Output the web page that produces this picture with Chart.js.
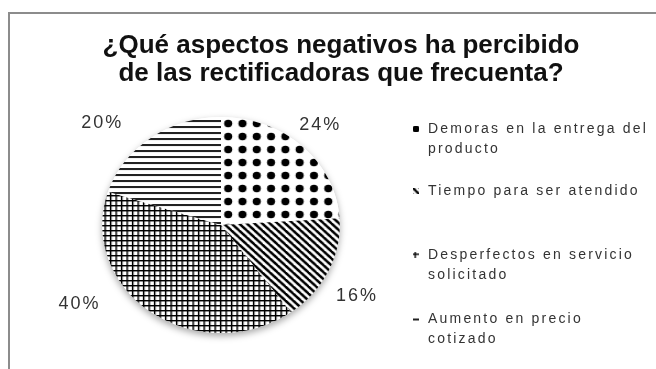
<!DOCTYPE html>
<html>
<head>
<meta charset="utf-8">
<script src="https://cdn.jsdelivr.net/npm/chart.js@4.4.0/dist/chart.umd.min.js"></script>
<style>
  html, body { margin: 0; padding: 0; background: #fff; }
  #wrap { width: 656px; height: 369px; }
</style>
</head>
<body>
<div id="wrap"><canvas id="pieChart" width="656" height="369"></canvas></div>
<script>
const titleLines = ["¿Qué aspectos negativos ha percibido", "de las rectificadoras que frecuenta?"];
const categories = [
  ["Demoras en la entrega del", "producto"],
  ["Tiempo para ser atendido"],
  ["Desperfectos en servicio", "solicitado"],
  ["Aumento en precio", "cotizado"],
];
const percentages = [24, 16, 40, 20];

// where each % label sits, in units of the pie radius from its centre
const labelSpots = [[0.92, -0.93], [1.26, 0.66], [-1.31, 0.73], [-1.10, -0.94]];
const legendRows = [129, 191, 255, 319];
const stretchX = 1.1;

function makePattern(w, h, draw) {
  const c = document.createElement("canvas");
  c.width = w;
  c.height = h;
  const g = c.getContext("2d");
  g.fillStyle = "#fff";
  g.fillRect(0, 0, w, h);
  g.fillStyle = "#000";
  g.strokeStyle = "#000";
  draw(g, w, h);
  return g.createPattern(c, "repeat");
}

const dots = makePattern(13, 13, (g) => {
  g.beginPath();
  g.arc(6.5, 6.5, 3.7, 0, Math.PI * 2);
  g.fill();
});
const diagonal = makePattern(7, 7, (g) => {
  g.lineWidth = 2.4;
  for (const o of [-7, 0, 7]) {
    g.beginPath();
    g.moveTo(o - 1, -1);
    g.lineTo(o + 8, 8);
    g.stroke();
  }
});
const grid = makePattern(5, 5, (g) => {
  g.fillRect(0, 0, 1.4, 5);
  g.fillRect(0, 0, 5, 1.4);
});
const horizontal = makePattern(6, 6, (g) => {
  g.fillStyle = "#222";
  g.fillRect(0, 0, 6, 2);
});
const fills = [dots, diagonal, grid, horizontal];

const frame = {
  id: "frame",
  beforeDraw(chart) {
    const ctx = chart.ctx;
    ctx.save();
    ctx.strokeStyle = "#8c8c8c";
    ctx.lineWidth = 2;
    ctx.strokeRect(9, 13, 700, 400);
    ctx.fillStyle = "#111";
    ctx.font = "bold 26px 'Liberation Sans', Arial, sans-serif";
    ctx.textAlign = "center";
    ctx.textBaseline = "middle";
    titleLines.forEach((t, i) => ctx.fillText(t, 341, 46 + i * 28));
    ctx.restore();
  },
};

const ellipse = {
  id: "ellipse",
  beforeDatasetsDraw(chart) {
    const arc = chart.getDatasetMeta(0).data[0];
    const ctx = chart.ctx;
    ctx.save();
    ctx.translate(arc.x, arc.y);
    ctx.scale(stretchX, 1);
    ctx.translate(-arc.x, -arc.y);
    ctx.save();
    ctx.shadowColor = "rgba(0,0,0,0.35)";
    ctx.shadowBlur = 7;
    ctx.shadowOffsetY = 3;
    ctx.fillStyle = "#fff";
    ctx.beginPath();
    ctx.arc(arc.x, arc.y, arc.outerRadius, 0, Math.PI * 2);
    ctx.fill();
    ctx.restore();
  },
  afterDatasetsDraw(chart) {
    const ctx = chart.ctx;
    ctx.restore();
    const arcs = chart.getDatasetMeta(0).data;
    const r = arcs[0].outerRadius;
    ctx.save();
    ctx.fillStyle = "#333";
    ctx.font = "18px 'Liberation Sans', Arial, sans-serif";
    ctx.letterSpacing = "2px";
    ctx.textAlign = "center";
    ctx.textBaseline = "middle";
    arcs.forEach((a, i) => {
      const [fx, fy] = labelSpots[i];
      ctx.fillText(percentages[i] + "%", a.x + fx * r, a.y + fy * r);
    });

    ctx.font = "14px 'Liberation Sans', Arial, sans-serif";
    ctx.letterSpacing = "2.2px";
    ctx.textAlign = "left";
    categories.forEach((lines, i) => {
      const y = legendRows[i];
      // small swatch, pattern tile centred on it
      ctx.save();
      ctx.translate(416 - 6.5, y - 6.5);
      ctx.fillStyle = fills[i];
      ctx.fillRect(3.5, 3.5, 6, 6);
      ctx.restore();
      ctx.fillStyle = "#333";
      lines.forEach((t, j) => ctx.fillText(t, 428, y + j * 20));
    });
    ctx.restore();
  },
};

new Chart(document.getElementById("pieChart"), {
  type: "pie",
  data: {
    labels: categories.map((c) => c.join(" ")),
    datasets: [
      {
        data: percentages,
        backgroundColor: fills,
        borderWidth: 0,
      },
    ],
  },
  options: {
    responsive: false,
    animation: false,
    layout: { padding: { left: 113, right: 327, top: 117, bottom: 36 } },
    plugins: {
      legend: { display: false },
      title: { display: false },
      tooltip: { enabled: false },
    },
  },
  plugins: [frame, ellipse],
});
</script>
</body>
</html>
